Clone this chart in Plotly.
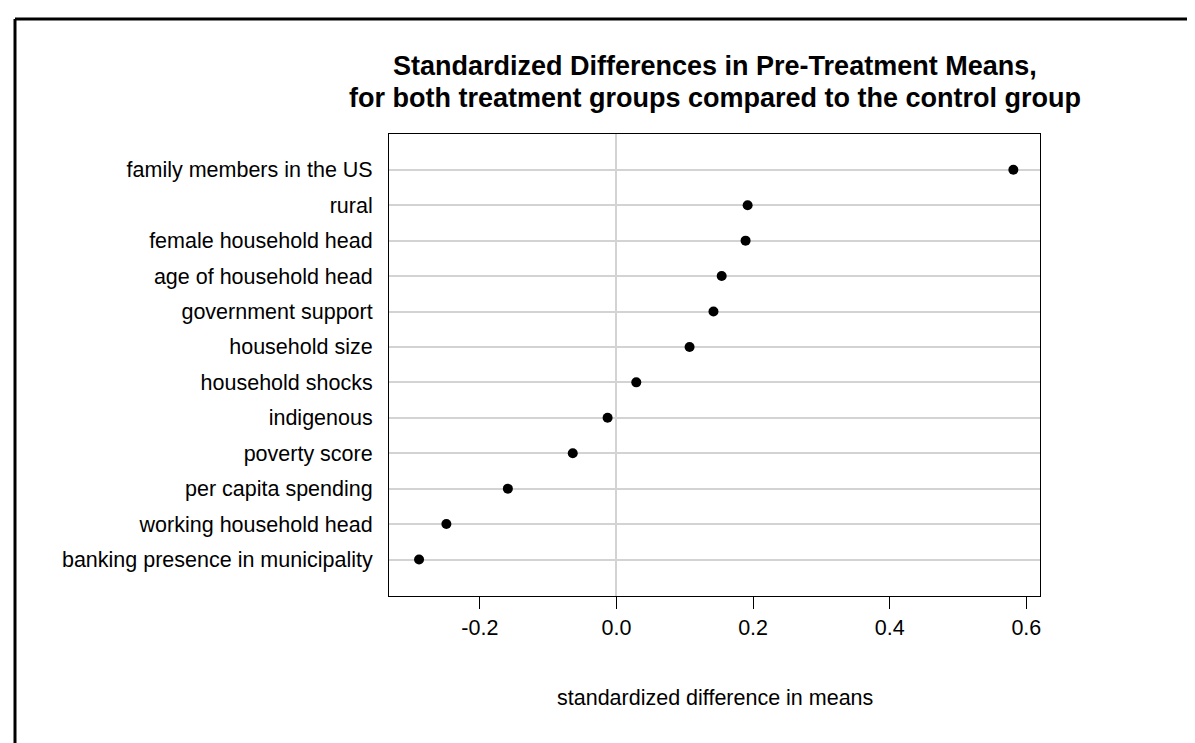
import plotly.graph_objects as go

# Data (bottom to top)
variables = [
    "banking presence in municipality",
    "working household head",
    "per capita spending",
    "poverty score",
    "indigenous",
    "household shocks",
    "household size",
    "government support",
    "age of household head",
    "female household head",
    "rural",
    "family members in the US",
]
std_diff = [-0.289, -0.249, -0.159, -0.064, -0.013, 0.029, 0.107, 0.142, 0.154, 0.189, 0.192, 0.581]
x_ticks = [-0.2, 0.0, 0.2, 0.4, 0.6]
x_ticklabels = ["-0.2", "0.0", "0.2", "0.4", "0.6"]
title_lines = [
    "Standardized Differences in Pre-Treatment Means,",
    "for both treatment groups compared to the control group",
]
x_title = "standardized difference in means"

positions = list(range(1, len(variables) + 1))
FONT = "Liberation Sans, Arial, sans-serif"

W, H = 1195, 743
L, R, T, B = 381, 163, 126, 155
PW, PH = W - L - R, H - T - B


def py(px_from_top):
    """paper y from pixel row"""
    return (H - B - px_from_top) / PH


fig = go.Figure()
fig.add_trace(go.Scatter(
    x=std_diff, y=positions, mode="markers",
    marker=dict(color="black", size=10),
    showlegend=False, hoverinfo="skip",
))

annotations = [
    dict(text="<b>%s</b>" % title_lines[0], xref="paper", yref="paper", x=0.5, y=py(58),
         xanchor="center", yanchor="middle", showarrow=False,
         font=dict(size=27, family=FONT, color="black")),
    dict(text="<b>%s</b>" % title_lines[1], xref="paper", yref="paper", x=0.5, y=py(90),
         xanchor="center", yanchor="middle", showarrow=False,
         font=dict(size=27, family=FONT, color="black")),
    dict(text=x_title, xref="paper", yref="paper", x=0.5, y=py(690),
         xanchor="center", yanchor="middle", showarrow=False,
         font=dict(size=21.5, family=FONT, color="black")),
]

fig.update_layout(
    width=W, height=H,
    margin=dict(l=L, r=R, t=T, b=B, pad=0),
    paper_bgcolor="white", plot_bgcolor="white",
    font=dict(family=FONT, color="black"),
    annotations=annotations,
    xaxis=dict(
        range=[-0.333, 0.62],
        tickvals=x_ticks, ticktext=x_ticklabels,
        ticks="outside", ticklen=12, tickwidth=1, tickcolor="black",
        tickfont=dict(size=21.5, family=FONT),
        showline=True, linecolor="black", linewidth=1, mirror=True,
        showgrid=False, zeroline=True, zerolinecolor="#d3d3d3", zerolinewidth=2,
    ),
    yaxis=dict(
        range=[-0.03, 13.01],
        tickvals=positions, ticktext=variables,
        ticks="", ticklabelstandoff=11,
        tickfont=dict(size=21.5, family=FONT),
        showline=True, linecolor="black", linewidth=1, mirror=True,
        showgrid=True, gridcolor="#d3d3d3", gridwidth=2,
        zeroline=False,
    ),
    shapes=[
        dict(type="line", xref="paper", yref="paper",
             x0=-(L - 7) / PW, x1=(W - L + 5) / PW,
             y0=py(11), y1=py(11),
             line=dict(color="black", width=3)),
        dict(type="line", xref="paper", yref="paper",
             x0=-(L - 7) / PW, x1=-(L - 7) / PW,
             y0=py(11), y1=py(H + 5),
             line=dict(color="black", width=3)),
    ],
)

fig.write_html("out.html")
